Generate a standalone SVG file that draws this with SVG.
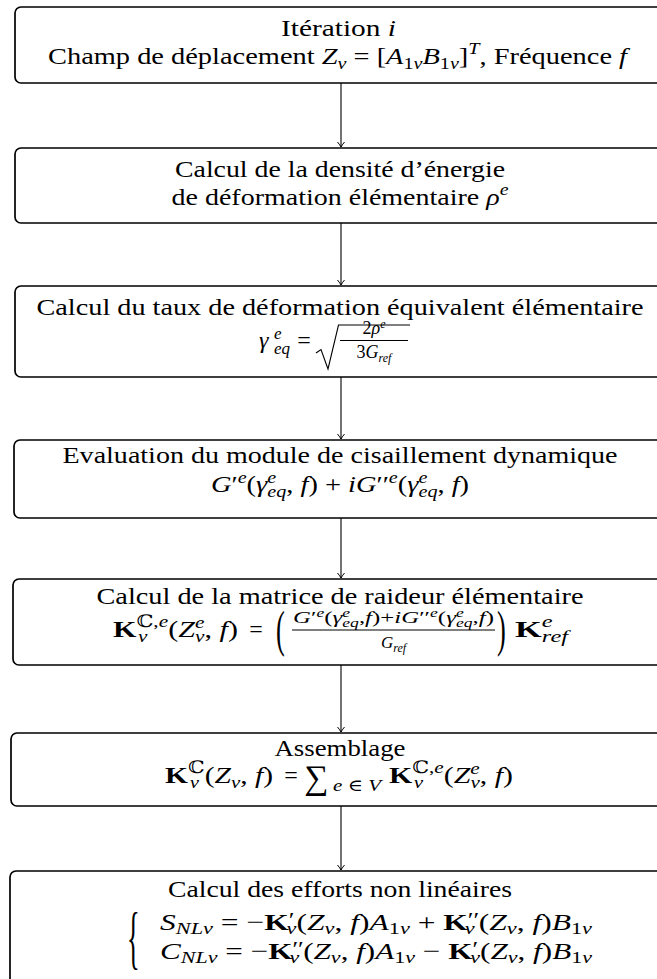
<svg xmlns="http://www.w3.org/2000/svg" width="657" height="979" viewBox="0 0 657 979">
<style>
.box{fill:#fff;stroke:#000;stroke-width:1.7}
.t{font-family:"Liberation Serif","DejaVu Serif",serif;font-size:24px;fill:#000}
.i{font-style:italic}
.b{font-weight:bold}
.s{font-size:17px}
.ss{font-size:12px}
.p{font-size:20px}
.edge{stroke:#000;stroke-width:1.1;fill:none;marker-end:url(#arr)}
.rule{stroke:#000;stroke-width:1.1;fill:none}
</style>
<defs>
<marker id="arr" markerUnits="userSpaceOnUse" viewBox="-6 -5 7 10" refX="0" refY="0" markerWidth="7" markerHeight="10" orient="auto">
<path d="M-5,-3.5 Q-1.8,-0.9 0,0 Q-1.8,0.9 -5,3.5" fill="none" stroke="#000" stroke-width="1"/>
</marker>
</defs>
<rect width="657" height="979" fill="#fff"/>

<g id="edges">
<line class="edge" x1="341" y1="83" x2="341" y2="147"/>
<line class="edge" x1="341" y1="223" x2="341" y2="285"/>
<line class="edge" x1="341" y1="377" x2="341" y2="439"/>
<line class="edge" x1="341" y1="518" x2="341" y2="578"/>
<line class="edge" x1="341" y1="665" x2="341" y2="732"/>
<line class="edge" x1="341" y1="806" x2="341" y2="870"/>
</g>

<g id="n1">
<rect class="box" x="15" y="7" width="652" height="76" rx="6"/>
<text class="t" x="281" y="36" textLength="115" lengthAdjust="spacingAndGlyphs">Itération <tspan class="i">i</tspan></text>
<text class="t" x="48" y="64" textLength="579" lengthAdjust="spacingAndGlyphs">Champ de déplacement <tspan class="i">Z</tspan><tspan class="i s" dy="5">v</tspan><tspan dy="-5"> = [</tspan><tspan class="i">A</tspan><tspan class="s" dy="5">1</tspan><tspan class="i s">v</tspan><tspan class="i" dy="-5">B</tspan><tspan class="s" dy="5">1</tspan><tspan class="i s">v</tspan><tspan dy="-5">]</tspan><tspan class="i s" dy="-10">T</tspan><tspan dy="10">, Fréquence </tspan><tspan class="i">f</tspan></text>
</g>

<g id="n2">
<rect class="box" x="15" y="148" width="652" height="75" rx="6"/>
<text class="t" x="175" y="177" textLength="330" lengthAdjust="spacingAndGlyphs">Calcul de la densité d’énergie</text>
<text class="t" x="171.5" y="205" textLength="337" lengthAdjust="spacingAndGlyphs">de déformation élémentaire <tspan class="i">ρ</tspan><tspan class="i s" dy="-10">e</tspan></text>
</g>

<g id="n3">
<rect class="box" x="15" y="286" width="652" height="91" rx="6"/>
<text class="t" x="36.5" y="315" textLength="607" lengthAdjust="spacingAndGlyphs">Calcul du taux de déformation équivalent élémentaire</text>
<text class="t i" x="259" y="348">γ</text>
<text class="t i s" x="274" y="339">e</text>
<text class="t i s" x="274" y="354">eq</text>
<text class="t" x="304" y="348" text-anchor="middle">=</text>
<path class="rule" d="M316,353 L321,349.5 L328,369 L338.5,325 L410,325"/>
<text class="t" style="font-size:18px" x="374" y="334" text-anchor="middle">2<tspan class="i">ρ</tspan><tspan class="i ss" dy="-6">e</tspan></text>
<line class="rule" x1="340" y1="340.5" x2="408" y2="340.5"/>
<text class="t" style="font-size:18px" x="374" y="358" text-anchor="middle">3<tspan class="i">G</tspan><tspan class="i ss" dy="4">ref</tspan></text>
</g>

<g id="n4">
<rect class="box" x="14" y="440" width="654" height="78" rx="6"/>
<text class="t" x="62.5" y="463" textLength="555" lengthAdjust="spacingAndGlyphs">Evaluation du module de cisaillement dynamique</text>
<text class="t" x="211" y="492" textLength="258" lengthAdjust="spacingAndGlyphs"><tspan class="i">G</tspan>′<tspan class="i s" dy="-9">e</tspan><tspan dy="9">(</tspan><tspan class="i">γ</tspan><tspan class="i s" dy="-9">e</tspan><tspan class="i s" dx="-7.5" dy="14">eq</tspan><tspan dy="-5">, </tspan><tspan class="i">f</tspan>) + <tspan class="i">iG</tspan>′′<tspan class="i s" dy="-9">e</tspan><tspan dy="9">(</tspan><tspan class="i">γ</tspan><tspan class="i s" dy="-9">e</tspan><tspan class="i s" dx="-7.5" dy="14">eq</tspan><tspan dy="-5">, </tspan><tspan class="i">f</tspan>)</text>
</g>

<g id="n5">
<rect class="box" x="13" y="579" width="656" height="86" rx="6"/>
<text class="t" x="96.5" y="604" textLength="487" lengthAdjust="spacingAndGlyphs">Calcul de la matrice de raideur élémentaire</text>
<text class="t" x="113" y="637" textLength="125" lengthAdjust="spacingAndGlyphs"><tspan class="b">K</tspan><tspan class="s" dy="-10">ℂ,</tspan><tspan class="i s">e</tspan><tspan class="i s" dx="-24" dy="15">v</tspan><tspan dx="16.5" dy="-5">(</tspan><tspan class="i">Z</tspan><tspan class="i s" dy="-9">e</tspan><tspan class="i s" dx="-7.5" dy="14">v</tspan><tspan dy="-5">, </tspan><tspan class="i">f</tspan>)</text>
<text class="t" x="256" y="637" text-anchor="middle">=</text>
<text class="t" transform="translate(276,646) scale(1.1,2.1)">(</text>
<text class="t" style="font-size:17px" x="293" y="623" textLength="201" lengthAdjust="spacingAndGlyphs"><tspan class="i">G</tspan>′<tspan class="i ss" dy="-6">e</tspan><tspan dy="6">(</tspan><tspan class="i">γ</tspan><tspan class="i ss" dy="-6">e</tspan><tspan class="i ss" dx="-5.3" dy="10">eq</tspan><tspan dy="-4">,</tspan><tspan class="i">f</tspan>)+<tspan class="i">iG</tspan>′′<tspan class="i ss" dy="-6">e</tspan><tspan dy="6">(</tspan><tspan class="i">γ</tspan><tspan class="i ss" dy="-6">e</tspan><tspan class="i ss" dx="-5.3" dy="10">eq</tspan><tspan dy="-4">,</tspan><tspan class="i">f</tspan>)</text>
<line class="rule" x1="292" y1="630" x2="495" y2="630"/>
<text class="t" style="font-size:17px" x="393.5" y="648" text-anchor="middle"><tspan class="i">G</tspan><tspan class="i ss" dy="4">ref</tspan></text>
<text class="t" transform="translate(497,646) scale(1.1,2.1)">)</text>
<text class="t" x="515" y="637" textLength="53" lengthAdjust="spacingAndGlyphs"><tspan class="b">K</tspan><tspan class="i s" dy="-10">e</tspan><tspan class="i s" dx="-7.5" dy="15">ref</tspan></text>
</g>

<g id="n6">
<rect class="box" x="11" y="733" width="660" height="73" rx="6"/>
<text class="t" x="274.5" y="756" textLength="131" lengthAdjust="spacingAndGlyphs">Assemblage</text>
<text class="t" x="165" y="783" textLength="108" lengthAdjust="spacingAndGlyphs"><tspan class="b">K</tspan><tspan class="s" dy="-10">ℂ</tspan><tspan class="i s" dx="-12" dy="15">v</tspan><tspan dx="4.5" dy="-5">(</tspan><tspan class="i">Z</tspan><tspan class="i s" dy="5">v</tspan><tspan dy="-5">, </tspan><tspan class="i">f</tspan>)</text>
<text class="t" x="291" y="783" text-anchor="middle">=</text>
<text class="t" style="font-size:34px" x="304" y="789">∑</text>
<text class="t s" x="333" y="791" textLength="48" lengthAdjust="spacingAndGlyphs"><tspan class="i">e</tspan> ∈ <tspan class="i">V</tspan></text>
<text class="t" x="389" y="783" textLength="124" lengthAdjust="spacingAndGlyphs"><tspan class="b">K</tspan><tspan class="s" dy="-10">ℂ,</tspan><tspan class="i s">e</tspan><tspan class="i s" dx="-24" dy="15">v</tspan><tspan dx="16.5" dy="-5">(</tspan><tspan class="i">Z</tspan><tspan class="i s" dy="-9">e</tspan><tspan class="i s" dx="-7.5" dy="14">v</tspan><tspan dy="-5">, </tspan><tspan class="i">f</tspan>)</text>
</g>

<g id="n7">
<rect class="box" x="10" y="871" width="662" height="120" rx="6"/>
<text class="t" x="168" y="897" textLength="344" lengthAdjust="spacingAndGlyphs">Calcul des efforts non linéaires</text>
<text class="t" transform="translate(127,961) scale(1.1,2.9)">{</text>
<text class="t" x="160" y="930" textLength="432" lengthAdjust="spacingAndGlyphs"><tspan class="i">S</tspan><tspan class="i s" dy="4">NLv</tspan><tspan dy="-4"> = −</tspan><tspan class="b">K</tspan><tspan class="p" dy="-3">′</tspan><tspan class="i s" dx="-6" dy="7">v</tspan><tspan dy="-4">(</tspan><tspan class="i">Z</tspan><tspan class="i s" dy="4">v</tspan><tspan dy="-4">, </tspan><tspan class="i">f</tspan>)<tspan class="i">A</tspan><tspan class="s" dy="4">1</tspan><tspan class="i s">v</tspan><tspan dy="-4"> + </tspan><tspan class="b">K</tspan><tspan class="p" dy="-3">′′</tspan><tspan class="i s" dx="-11" dy="7">v</tspan><tspan dx="3" dy="-4">(</tspan><tspan class="i">Z</tspan><tspan class="i s" dy="4">v</tspan><tspan dy="-4">, </tspan><tspan class="i">f</tspan>)<tspan class="i">B</tspan><tspan class="s" dy="4">1</tspan><tspan class="i s">v</tspan></text>
<text class="t" x="160" y="959" textLength="432" lengthAdjust="spacingAndGlyphs"><tspan class="i">C</tspan><tspan class="i s" dy="4">NLv</tspan><tspan dy="-4"> = −</tspan><tspan class="b">K</tspan><tspan class="p" dy="-3">′′</tspan><tspan class="i s" dx="-11" dy="7">v</tspan><tspan dx="3" dy="-4">(</tspan><tspan class="i">Z</tspan><tspan class="i s" dy="4">v</tspan><tspan dy="-4">, </tspan><tspan class="i">f</tspan>)<tspan class="i">A</tspan><tspan class="s" dy="4">1</tspan><tspan class="i s">v</tspan><tspan dy="-4"> − </tspan><tspan class="b">K</tspan><tspan class="p" dy="-3">′</tspan><tspan class="i s" dx="-6" dy="7">v</tspan><tspan dy="-4">(</tspan><tspan class="i">Z</tspan><tspan class="i s" dy="4">v</tspan><tspan dy="-4">, </tspan><tspan class="i">f</tspan>)<tspan class="i">B</tspan><tspan class="s" dy="4">1</tspan><tspan class="i s">v</tspan></text>
</g>
</svg>
